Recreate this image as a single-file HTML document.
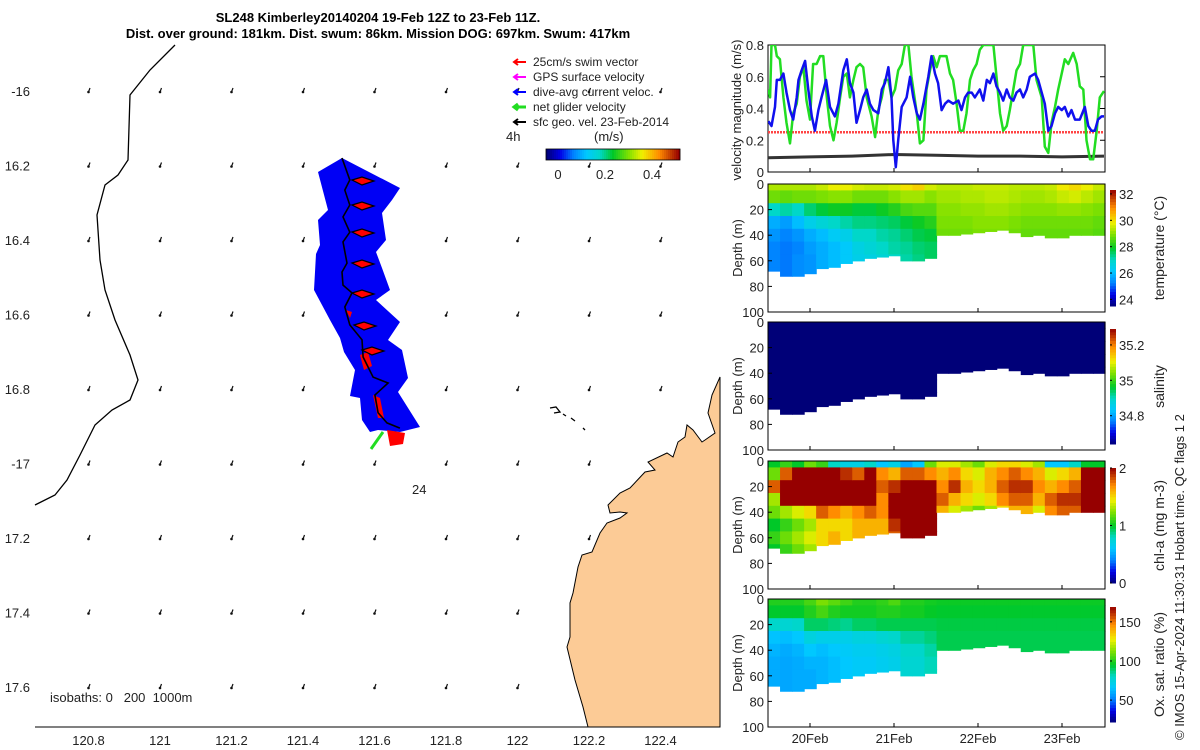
<!DOCTYPE html>
<html><head><meta charset="utf-8">
<style>
html,body{margin:0;padding:0;background:#fff;}
svg{display:block;font-family:"Liberation Sans",Arial,sans-serif;}
.t{font-size:13px;fill:#222;}
.ttl{font-size:13px;font-weight:bold;fill:#000;}
</style></head>
<body>
<svg id="fig" width="1200" height="750" viewBox="0 0 1200 750">
<text class="ttl" x="378" y="22" text-anchor="middle">SL248 Kimberley20140204 19-Feb 12Z to 23-Feb 11Z.</text>
<text class="ttl" x="378" y="38" text-anchor="middle">Dist. over ground: 181km. Dist. swum: 86km. Mission DOG: 697km. Swum: 417km</text>
<g id="map"></g>
<g id="vel"></g>
<g id="sec"></g>
<text x="1184" y="740" transform="rotate(-90 1184 740)" style="font-size:13px;fill:#222">© IMOS 15-Apr-2024 11:30:31 Hobart time. QC flags 1  2</text>
</svg>
<script>
// ---------- data ----------
const mapLonTicks=[120.8,121,121.2,121.4,121.6,121.8,122,122.2,122.4];
const mapLatTicks=[-16,-16.2,-16.4,-16.6,-16.8,-17,-17.2,-17.4,-17.6];
const mapLatLabels=['-16','16.2','16.4','16.6','16.8','-17','17.2','17.4','17.6'];
const trackLon=[121.509,121.531,121.517,121.531,121.512,121.531,121.512,121.523,121.509,121.512,121.537,121.517,121.531,121.565,121.568,121.596,121.638,121.601,121.610,121.635,121.671];
const trackLat=[-16.180,-16.239,-16.266,-16.306,-16.338,-16.379,-16.405,-16.462,-16.486,-16.521,-16.542,-16.580,-16.628,-16.668,-16.714,-16.768,-16.784,-16.816,-16.864,-16.891,-16.905];
const cbTicks=[0,0.2,0.4];

const blueH=[0.1,1.0,2.0,2.5,3.4,4.4,5.3,6.3,7.2,8.2,8.7,9.6,10.6,11.5,12.5,13.4,14.4,15.3,16.6,17.7,19.1,20.1,21.5,22.5,23.4,24.4,25.3,26.3,27.2,28.2,29.1,30.1,31.5,32.5,33.4,34.4,35.3,35.8,36.5,37.2,38.2,39.6,40.6,41.5,42.5,43.4,44.4,45.8,46.7,47.7,48.6,49.6,50.6,51.5,52.9,54.4,55.3,56.3,57.2,58.2,59.1,60.5,61.5,62.5,63.4,64.4,65.3,66.3,67.2,68.2,69.1,70.1,71.0,72.0,72.9,73.9,74.8,76.3,77.2,78.2,79.1,80.1,81.0,82.0,82.9,83.9,84.8,85.8,86.7,87.7,89.1,90.5,91.5,92.4,93.4,94.3,95.3,96.0];
const blueV=[0.32,0.29,0.41,0.58,0.58,0.62,0.50,0.39,0.33,0.47,0.58,0.64,0.70,0.52,0.35,0.26,0.39,0.47,0.58,0.41,0.35,0.43,0.64,0.71,0.56,0.50,0.31,0.39,0.47,0.52,0.43,0.39,0.37,0.52,0.56,0.66,0.47,0.20,0.03,0.20,0.41,0.47,0.60,0.47,0.37,0.33,0.43,0.60,0.73,0.62,0.56,0.39,0.43,0.45,0.43,0.45,0.39,0.47,0.50,0.50,0.47,0.52,0.45,0.58,0.56,0.62,0.54,0.50,0.45,0.52,0.47,0.45,0.50,0.52,0.47,0.52,0.60,0.62,0.58,0.50,0.43,0.26,0.29,0.37,0.41,0.39,0.41,0.35,0.39,0.33,0.33,0.41,0.29,0.26,0.26,0.33,0.35,0.35];
const greenH=[0.1,0.6,1.0,2.0,2.5,3.4,4.4,5.3,6.3,7.2,8.2,9.1,10.1,11.0,12.0,12.9,13.9,14.9,15.8,16.8,17.7,18.7,19.6,20.6,21.5,22.5,23.4,24.4,25.3,26.3,27.2,28.2,29.6,30.6,31.5,32.5,33.4,34.4,35.3,36.3,37.2,38.2,39.1,40.1,41.0,42.5,43.4,44.4,45.3,46.3,47.2,48.2,49.1,51.0,52.0,52.9,53.9,54.8,55.8,56.7,57.7,58.6,59.6,60.5,61.5,64.4,65.3,66.3,67.2,68.2,69.1,70.1,71.0,72.0,72.9,75.8,76.7,78.2,79.1,80.1,81.0,82.0,82.9,83.9,84.8,85.8,87.2,88.2,89.1,90.1,91.0,92.0,92.9,93.9,94.8,96.0];
const greenV=[0.52,0.47,0.80,0.80,0.73,0.71,0.47,0.31,0.18,0.37,0.43,0.60,0.66,0.45,0.33,0.68,0.68,0.73,0.73,0.47,0.29,0.20,0.31,0.47,0.60,0.62,0.47,0.58,0.66,0.68,0.66,0.47,0.35,0.22,0.39,0.47,0.58,0.58,0.47,0.52,0.64,0.68,0.80,0.80,0.60,0.37,0.18,0.20,0.52,0.64,0.73,0.66,0.73,0.73,0.62,0.58,0.43,0.26,0.26,0.37,0.58,0.64,0.68,0.77,0.80,0.80,0.60,0.37,0.26,0.29,0.39,0.52,0.64,0.68,0.80,0.80,0.58,0.47,0.16,0.12,0.31,0.41,0.52,0.62,0.71,0.68,0.75,0.68,0.54,0.52,0.20,0.08,0.08,0.26,0.47,0.51];
const swimH=[0,96];
const swimV=[0.25,0.25];
const geoH=[0,12,24,36,48,60,72,84,96];
const geoV=[0.09,0.095,0.10,0.11,0.105,0.10,0.10,0.095,0.10];
const velTicks=[0,0.2,0.4,0.6,0.8];
const dayTicks=[12,36,60,84];
const dayLabels=['20Feb','21Feb','22Feb','23Feb'];

const layerTop=[0,5,15,25,35,45,55,65];
const layerBot=[5,15,25,35,45,55,65,75];
const bottomDepth=[68,72,72,70,66,65,62,60,58,57,56,60,60,58,40,40,39,38,37,36,38,41,40,42,42,40,40,40];
const depthTicks=[0,20,40,60,80,100];
const tempGrid=[
[29.3,28.8,27.0,25.8,25.5,25.3,25.3,25.3],[29.3,28.7,27.2,25.6,25.3,25.2,25.2,25.2],[29.3,28.8,27.0,26.0,25.5,25.3,25.4,25.4],[29.3,28.8,27.5,26.5,25.8,25.6,25.5,25.5],
[29.5,28.9,27.8,26.8,26.0,25.8,25.8,25.8],[29.8,29.0,28.0,27.0,26.3,26.0,26.0,26.0],[29.8,29.0,28.0,27.2,26.5,26.2,26.2,26.0],[29.6,28.8,27.8,27.4,27.0,26.6,26.5,26.0],
[29.5,28.8,27.8,27.4,27.0,26.8,26.6,26.6],[29.5,28.8,28.0,27.5,27.2,27.0,26.8,26.8],[29.6,29.0,28.2,27.6,27.3,27.2,27.0,27.0],[30.0,29.2,28.5,27.8,27.5,27.3,27.2,27.2],
[30.2,29.2,28.6,28.0,27.7,27.5,27.4,27.4],[29.6,29.0,28.6,28.2,27.8,27.6,27.6,27.6],[29.4,29.2,29.0,28.9,28.8,28.8,28.8,28.8],[29.4,29.2,29.0,28.9,28.8,28.8,28.8,28.8],
[29.4,29.3,29.1,28.9,28.8,28.8,28.8,28.8],[29.5,29.3,29.1,29.0,28.9,28.8,28.8,28.8],[29.5,29.4,29.2,29.0,28.9,28.8,28.8,28.8],[29.5,29.4,29.2,29.0,28.9,28.8,28.8,28.8],
[29.4,29.3,29.1,28.9,28.8,28.8,28.8,28.8],[29.4,29.2,29.0,28.8,28.7,28.7,28.7,28.7],[29.4,29.2,29.0,28.8,28.7,28.7,28.7,28.7],[29.5,29.3,29.0,28.8,28.7,28.7,28.7,28.7],
[29.9,29.5,29.1,28.8,28.7,28.7,28.7,28.7],[30.1,29.6,29.1,28.8,28.7,28.7,28.7,28.7],[29.8,29.4,29.0,28.8,28.7,28.7,28.7,28.7],[29.5,29.2,28.9,28.7,28.6,28.6,28.6,28.6]];
const salGrid=[
[34.6,34.6,34.6,34.6,34.6,34.6,34.6,34.6],[34.6,34.6,34.6,34.6,34.6,34.6,34.6,34.6],[34.6,34.6,34.6,34.6,34.6,34.6,34.6,34.6],[34.6,34.6,34.6,34.6,34.6,34.6,34.6,34.6],
[34.6,34.6,34.6,34.6,34.6,34.6,34.6,34.6],[34.6,34.6,34.6,34.6,34.6,34.6,34.6,34.6],[34.6,34.6,34.6,34.6,34.6,34.6,34.6,34.6],[34.6,34.6,34.6,34.6,34.6,34.6,34.6,34.6],
[34.6,34.6,34.6,34.6,34.6,34.6,34.6,34.6],[34.6,34.6,34.6,34.6,34.6,34.6,34.6,34.6],[34.6,34.6,34.6,34.6,34.6,34.6,34.6,34.6],[34.6,34.6,34.6,34.6,34.6,34.6,34.6,34.6],
[34.6,34.6,34.6,34.6,34.6,34.6,34.6,34.6],[34.6,34.6,34.6,34.6,34.6,34.6,34.6,34.6],[34.6,34.6,34.6,34.6,34.6,34.6,34.6,34.6],[34.6,34.6,34.6,34.6,34.6,34.6,34.6,34.6],
[34.6,34.6,34.6,34.6,34.6,34.6,34.6,34.6],[34.6,34.6,34.6,34.6,34.6,34.6,34.6,34.6],[34.6,34.6,34.6,34.6,34.6,34.6,34.6,34.6],[34.6,34.6,34.6,34.6,34.6,34.6,34.6,34.6],
[34.6,34.6,34.6,34.6,34.6,34.6,34.6,34.6],[34.6,34.6,34.6,34.6,34.6,34.6,34.6,34.6],[34.6,34.6,34.6,34.6,34.6,34.6,34.6,34.6],[34.6,34.6,34.6,34.6,34.6,34.6,34.6,34.6],
[34.6,34.6,34.6,34.6,34.6,34.6,34.6,34.6],[34.6,34.6,34.6,34.6,34.6,34.6,34.6,34.6],[34.6,34.6,34.6,34.6,34.6,34.6,34.6,34.6],[34.6,34.6,34.6,34.6,34.6,34.6,34.6,34.6]];
const chlGrid=[
[1.0,1.2,1.8,1.3,1.2,1.0,1.1,1.0],[1.1,1.8,2,2,1.3,1.1,1.2,1.1],[1.0,2,2,2,1.4,1.2,1.3,1.2],[1.2,2,2,2,1.5,1.3,1.4,1.3],
[1.1,2,2,2,1.8,1.5,1.5,1.5],[0.8,2,2,2,1.7,1.5,1.6,1.6],[0.7,1.9,2,2,1.6,1.5,1.5,1.5],[0.7,1.8,2,2,1.7,1.6,1.6,1.6],
[0.8,2,2,2,1.8,1.6,1.6,1.6],[0.6,1.7,1.8,1.7,1.7,1.6,1.6,1.6],[0.7,1.6,1.9,2,2,1.9,1.8,1.8],[0.5,1.8,2,2,2,2,2,2],
[0.6,1.8,2,2,2,2,2,2],[1.2,1.7,2,2,2,2,2,2],[1.4,1.6,1.7,1.8,1.6,1.6,1.6,1.6],[1.4,1.7,1.9,1.6,1.4,1.4,1.4,1.4],
[1.3,1.5,1.6,1.5,1.3,1.3,1.3,1.3],[1.2,1.4,1.5,1.4,1.2,1.2,1.2,1.2],[1.4,1.6,1.6,1.5,1.3,1.3,1.3,1.3],[1.5,1.7,1.8,1.7,1.5,1.5,1.5,1.5],
[1.5,1.8,1.9,1.8,1.6,1.6,1.6,1.6],[1.4,1.7,1.9,1.8,1.6,1.6,1.6,1.6],[1.3,1.6,1.7,1.6,1.4,1.4,1.4,1.4],[0.6,1.4,1.6,1.8,1.7,1.7,1.7,1.7],
[0.6,1.5,1.7,1.9,1.8,1.8,1.8,1.8],[0.8,1.6,1.8,1.9,1.8,1.8,1.8,1.8],[1.0,2,2,2,2,2,2,2],[1.0,2,2,2,2,2,2,2]];
const oxyGrid=[
[100,95,80,65,62,60,60,60],[100,95,78,64,60,59,59,59],[100,95,80,66,62,60,60,60],[105,100,90,75,66,62,60,60],
[112,105,90,72,64,62,62,62],[108,100,88,72,66,64,64,64],[104,98,86,72,68,66,66,66],[100,98,90,75,70,68,68,68],
[100,98,90,75,70,68,68,68],[102,100,92,78,72,70,70,70],[106,100,92,80,74,72,72,72],[100,98,92,85,80,78,78,78],
[100,98,92,85,80,78,78,78],[98,96,92,88,84,82,82,82],[97,95,93,92,92,92,92,92],[97,95,93,92,92,92,92,92],
[97,95,93,92,92,92,92,92],[97,95,93,92,92,92,92,92],[97,95,93,92,92,92,92,92],[97,95,93,92,92,92,92,92],
[97,95,93,92,92,92,92,92],[97,95,93,92,92,92,92,92],[97,95,93,92,92,92,92,92],[97,95,93,92,92,92,92,92],
[97,95,93,92,92,92,92,92],[97,95,93,92,92,92,92,92],[97,95,93,92,92,92,92,92],[97,95,93,92,92,92,92,92]];
const tempTicks=[24,26,28,30,32];
const salTicks=[34.8,35,35.2];
const chlTicks=[0,1,2];
const oxyTicks=[50,100,150];

// ---------- helpers ----------
const NS='http://www.w3.org/2000/svg';
function mk(tag,attrs,parent){const e=document.createElementNS(NS,tag);for(const k in attrs)e.setAttribute(k,attrs[k]);parent.appendChild(e);return e;}
const stops=[[0,[0,0,120]],[0.1,[0,0,230]],[0.2,[0,130,255]],[0.3,[0,200,255]],[0.4,[0,215,200]],[0.5,[0,200,40]],[0.62,[130,225,0]],[0.72,[240,240,0]],[0.85,[255,140,0]],[1,[150,0,0]]];
function cmap(t){t=Math.max(0,Math.min(1,t));for(let i=1;i<stops.length;i++){if(t<=stops[i][0]){const a=stops[i-1],b=stops[i];const f=(t-a[0])/(b[0]-a[0]);const c=a[1].map((v,j)=>Math.round(v+(b[1][j]-v)*f));return `rgb(${c})`;}}return 'rgb(150,0,0)';}

// ---------- map ----------
const map=document.getElementById('map');
const lonX=lon=>160+(lon-121)*357.5;
const latY=lat=>91+(-16-lat)*372.5;
mapLonTicks.forEach(lo=>mapLatTicks.forEach(la=>{
  const x=lonX(lo),y=latY(la);
  const a=mk('path',{d:`M${x+1.5},${y-3} L${x},${y+1}`,stroke:'#111','stroke-width':1.2,fill:'none'},map);
  
  
  const d=mk('circle',{cx:x,cy:y+1,r:1.3,fill:'#111'},map);
  
  
}));
mk('path',{d:'M175,45 L150,70 L130,95 L128,160 L118,175 L105,185 L97,215 L100,260 L105,290 L115,320 L130,355 L138,380 L130,400 L112,410 L95,425 L80,455 L67,480 L55,495 L35,505',stroke:'#000','stroke-width':1.3,fill:'none',},map);
mk('path',{d:'M720,377 L712,395 L708,413 L715,433 L705,440 L702,442 L693,430 L687,425 L685,437 L678,442 L673,457 L667,453 L648,462 L655,470 L645,472 L630,488 L620,493 L608,505 L610,513 L620,512 L627,513 L620,518 L607,523 L600,533 L592,552 L582,555 L578,567 L573,593 L570,603 L570,637 L567,647 L575,680 L583,707 L588,727 L720,727 Z',fill:'#fccb96',stroke:'#000','stroke-width':1,},map);
mk('path',{d:'M550,408 L556,407 L560,412 L554,413 M563,414 L566,416 M571,418 L575,421 M583,428 L585,430',stroke:'#000','stroke-width':1.3,fill:'none',},map);
mk('polygon',{points:'342,158 400,188 392,200 382,213 386,240 376,252 382,268 390,290 376,300 400,322 388,340 402,350 408,378 398,392 420,427 400,432 378,430 370,432 362,420 360,398 350,396 355,370 344,352 340,338 330,320 314,290 316,254 320,245 318,220 328,210 318,172',fill:'#0000f5',},map);
mk('path',{d:'M387,430 L405,433 L403,444 L390,446 Z M360,355 L368,352 L372,366 L364,370 Z M373,395 L380,398 L384,418 L378,418 Z M346,310 L352,312 L350,318 Z',fill:'#f00',},map);
[[352,180],[352,205],[352,232],[352,263],[352,293],[354,325],[362,350]].forEach(p=>{
  const r=mk('path',{d:`M${p[0]},${p[1]} L${p[0]+10},${p[1]-3} L${p[0]+22},${p[1]+1} L${p[0]+10},${p[1]+5} Z`,fill:'#f00',stroke:'#000','stroke-width':1.2},map);
  
  
});
mk('path',{d:'M383,432 L371,449',stroke:'#22dd22','stroke-width':3,},map);
mk('path',{d:trackLon.map((lo,i)=>(i?'L':'M')+lonX(lo).toFixed(1)+','+latY(trackLat[i]).toFixed(1)).join(' '),stroke:'#000','stroke-width':1.6,fill:'none',},map);
mk('line',{x1:35,y1:727,x2:720,y2:727,stroke:'#000','stroke-width':1,},map);
mapLonTicks.forEach(lo=>{
  const t=mk('text',{x:lonX(lo),y:745,'text-anchor':'middle',class:'t'},map);t.textContent=String(lo);
  
  
});
mapLatTicks.forEach((la,i)=>{
  const t=mk('text',{x:30,y:latY(la)+5,'text-anchor':'end',class:'t'},map);t.textContent=mapLatLabels[i];
  
  
});
const tx=(s,x,y,name,extra)=>{const t=mk('text',Object.assign({x:x,y:y,class:'t'},extra||{}),map);t.textContent=s;return t;};
tx('24',412,494,'time-label-24h');
tx('4h',506,141,'time-label-4h');
tx('isobaths: 0\u00a0\u00a0\u00a0200\u00a0\u00a01000m',50,702,'isobath-legend');
const legItems=[['25cm/s swim vector','#f00'],['GPS surface velocity','#f0f'],['dive-avg current veloc.','#00f'],['net glider velocity','#2d2'],['sfc geo. vel. 23-Feb-2014','#000']];
legItems.forEach((it,i)=>{
  const y=62+i*15;
  const l=mk('path',{d:`M526,${y} L514,${y} M518,${y-3} L514,${y} L518,${y+3}`,stroke:it[1],'stroke-width':it[1]=='#2d2'?3:2,fill:'none'},map);
  
  
  const t=tx(it[0],533,y+4,'legend-entry');t.setAttribute('style','font-size:12px');
});
tx('(m/s)',594,141,'colorbar-title',{'font-size':'14'});
const cbX=v=>558+v*(652-558)/0.4;
for(let i=0;i<67;i++){const r=mk('rect',{x:546+i*2,y:149,width:2.2,height:11,fill:cmap(i/66)},map);}
mk('rect',{x:546,y:149,width:134,height:11,fill:'none',stroke:'#000','stroke-width':0.8,},map);
cbTicks.forEach(v=>{tx(String(v),cbX(v),179,'colorbar-tick-label',{'text-anchor':'middle'});});

// ---------- velocity panel ----------
const vel=document.getElementById('vel');
const hX=h=>768+h*(84/24);
const vY=v=>172-v*158.75;
mk('rect',{x:768,y:45,width:337,height:127,fill:'#fff',stroke:'#000','stroke-width':1,},vel);
const svgClip=mk('clipPath',{id:'vclip'},vel);mk('rect',{x:768,y:45,width:337,height:127},svgClip);
const gv=mk('g',{'clip-path':'url(#vclip)'},vel);
function lineG(H,V,col,w,name,dash){const p=mk('path',{d:H.map((h,i)=>(i?'L':'M')+hX(h).toFixed(1)+','+vY(V[i]).toFixed(1)).join(' '),stroke:col,'stroke-width':w,fill:'none','stroke-linejoin':'round'},gv);if(dash)p.setAttribute('stroke-dasharray',dash);}
lineG(swimH,swimV,'#f44',2.5,'swim-vector-line','2,1');
lineG(geoH,geoV,'#333',3,'geostrophic-velocity-line');
lineG(greenH,greenV,'#22dd22',2.5,'net-glider-velocity-line');
lineG(blueH,blueV,'#1010ee',2.5,'dive-avg-current-line');
velTicks.forEach(v=>{
  const t=mk('text',{x:764,y:vY(v)+5,'text-anchor':'end',class:'t'},vel);t.textContent=String(v);
  
  
  mk('line',{x1:1100,y1:vY(v),x2:1105,y2:vY(v),stroke:'#000'},vel);
});
dayTicks.forEach(h=>{mk('line',{x1:hX(h),y1:172,x2:hX(h),y2:168,stroke:'#000'},vel);});
{const t=mk('text',{x:741,y:110,'text-anchor':'middle',transform:'rotate(-90 741 110)',class:'t'},vel);t.textContent='velocity magnitude (m/s)';}

// ---------- section panels ----------
const sec=document.getElementById('sec');
const panels=[
 {top:184,grid:tempGrid,min:23.5,max:32.3,ticks:tempTicks,cbTop:190,cbBot:306,label:'temperature (°C)',name:'temperature'},
 {top:322,grid:salGrid,min:34.64,max:35.29,ticks:salTicks,cbTop:329,cbBot:444,label:'salinity',name:'salinity'},
 {top:461,grid:chlGrid,min:0,max:2,ticks:chlTicks,cbTop:468,cbBot:583,label:'chl-a (mg m-3)',name:'chlorophyll'},
 {top:599,grid:oxyGrid,min:22,max:169,ticks:oxyTicks,cbTop:607,cbBot:722,label:'Ox. sat. ratio (%)',name:'oxygen'}];
const colW=337/28;
panels.forEach((P,pi)=>{
  const g=mk('g',{},sec);
  
  
  const dY=d=>P.top+d*1.28;
  P.grid.forEach((col,ci)=>{
    col.forEach((val,li)=>{
      const t0=layerTop[li],b0=Math.min(layerBot[li],bottomDepth[ci]);
      if(b0<=t0)return;
      const r=mk('rect',{x:(768+ci*colW).toFixed(2),y:dY(t0).toFixed(2),width:(colW+0.6).toFixed(2),height:(dY(b0)-dY(t0)+0.6).toFixed(2),fill:cmap((val-P.min)/(P.max-P.min))},g);
      
      
    });
  });
  mk('rect',{x:768,y:P.top,width:337,height:128,fill:'none',stroke:'#000','stroke-width':1,},g);
  depthTicks.forEach(d=>{
    const t=mk('text',{x:764,y:dY(d)+5,'text-anchor':'end',class:'t'},g);t.textContent=String(d);
    
    
    mk('line',{x1:768,y1:dY(d),x2:772,y2:dY(d),stroke:'#000'},g);
  });
  dayTicks.forEach(h=>{mk('line',{x1:hX(h),y1:P.top+128,x2:hX(h),y2:P.top+124,stroke:'#000'},g);});
  const yl=P.top+64;
  {const t=mk('text',{x:742,y:yl,'text-anchor':'middle',transform:`rotate(-90 742 ${yl})`,class:'t'},g);t.textContent='Depth (m)';}
  const n=40,h=(P.cbBot-P.cbTop)/n;
  for(let i=0;i<n;i++){const r=mk('rect',{x:1110,y:P.cbBot-(i+1)*h,width:6,height:h+0.5,fill:cmap((i+0.5)/n)},g);}
  const cy=v=>P.cbBot-(v-P.min)/(P.max-P.min)*(P.cbBot-P.cbTop);
  P.ticks.forEach(v=>{
    const t=mk('text',{x:1119,y:cy(v)+5,class:'t'},g);t.textContent=String(v);
    
    
    mk('line',{x1:1110,y1:cy(v),x2:1112,y2:cy(v),stroke:'#000'},g);
  });
  const cx=1164,ccy=(P.cbTop+P.cbBot)/2;
  {const t=mk('text',{x:cx,y:ccy,'text-anchor':'middle',transform:`rotate(-90 ${cx} ${ccy})`,style:'font-size:14px;fill:#222'},g);t.textContent=P.label;}
});
dayTicks.forEach((h,i)=>{
  const t=mk('text',{x:hX(h),y:743,'text-anchor':'middle',class:'t'},sec);t.textContent=dayLabels[i];
  
  
});
</script>
</body></html>
